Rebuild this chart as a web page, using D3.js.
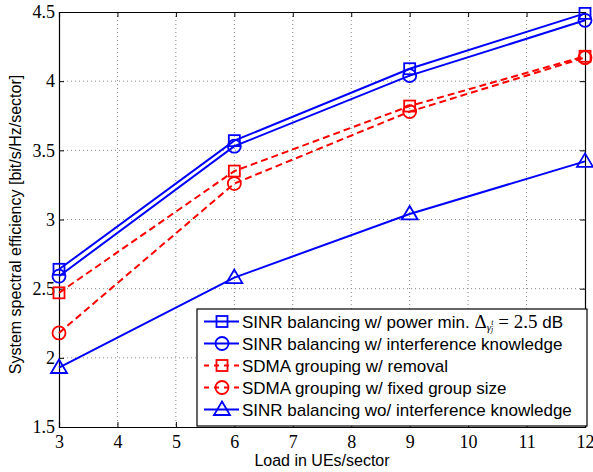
<!DOCTYPE html>
<html>
<head>
<meta charset="utf-8">
<script src="https://cdn.jsdelivr.net/npm/d3@7"></script>
<style>
  body { margin: 0; background: #fff; }
  svg { display: block; }
</style>
</head>
<body>
<div id="chart"></div>
<script>
// Loads on the x axis and efficiency values
const loads = [3, 6, 9, 12];
const xTicks = [3, 4, 5, 6, 7, 8, 9, 10, 11, 12];
const yTicks = [1.5, 2, 2.5, 3, 3.5, 4, 4.5];

const sinrPowerMin = [2.64, 3.57, 4.09, 4.49];
const sinrInterf = [2.59, 3.53, 4.04, 4.44];
const sdmaRemoval = [2.47, 3.35, 3.82, 4.18];
const sdmaFixed = [2.18, 3.26, 3.78, 4.17];
const sinrNoInterf = [1.93, 2.58, 3.04, 3.42];

const series = [
  { name: 'SINR balancing w/ power min.', values: sinrPowerMin, color: '#0000ff', dash: null, marker: 'square', math: true },
  { name: 'SINR balancing w/ interference knowledge', values: sinrInterf, color: '#0000ff', dash: null, marker: 'circle' },
  { name: 'SDMA grouping w/ removal', values: sdmaRemoval, color: '#ff0000', dash: '7,4', marker: 'square' },
  { name: 'SDMA grouping w/ fixed group size', values: sdmaFixed, color: '#ff0000', dash: '7,4', marker: 'circle' },
  { name: 'SINR balancing wo/ interference knowledge', values: sinrNoInterf, color: '#0000ff', dash: null, marker: 'triangle' }
];

const sansFam = 'Arial';
const serifFam = 'Times New Roman';

const width = 593, height = 472;
const margin = { top: 12, right: 8, bottom: 45, left: 59 };
const w = width - margin.left - margin.right;
const h = height - margin.top - margin.bottom;

const svg = d3.select('#chart').append('svg')
  .attr('width', width)
  .attr('height', height);

const g = svg.append('g')
  .attr('transform', `translate(${margin.left},${margin.top})`);

const x = d3.scaleLinear().domain([3, 12]).range([0, w]);
const y = d3.scaleLinear().domain([1.5, 4.5]).range([h, 0]);

// Grid
g.append('g').selectAll('line')
  .data(xTicks.slice(1, -1))
  .enter().append('line')
  .attr('x1', d => x(d)).attr('x2', d => x(d))
  .attr('y1', 0).attr('y2', h)
  .attr('stroke', '#888').attr('stroke-width', 1)
  .attr('stroke-dasharray', '1,3');
g.append('g').selectAll('line')
  .data(yTicks.slice(1, -1))
  .enter().append('line')
  .attr('x1', 0).attr('x2', w)
  .attr('y1', d => y(d)).attr('y2', d => y(d))
  .attr('stroke', '#888').attr('stroke-width', 1)
  .attr('stroke-dasharray', '1,3');

// Axes with inward ticks
const xAxis = g.append('g')
  .attr('transform', `translate(0,${h})`)
  .call(d3.axisBottom(x).tickValues(xTicks).tickSize(-5).tickPadding(8).tickFormat(d3.format('d')));
const yAxis = g.append('g')
  .call(d3.axisLeft(y).tickValues(yTicks).tickSize(-5).tickPadding(4).tickFormat(d => d));
g.append('g')
  .call(d3.axisTop(x).tickValues(xTicks).tickSize(-5).tickFormat(''));
g.append('g')
  .attr('transform', `translate(${w},0)`)
  .call(d3.axisRight(y).tickValues(yTicks).tickSize(-5).tickFormat(''));

g.selectAll('.domain').attr('stroke', '#000').attr('stroke-width', 1.2);
g.selectAll('.tick line').attr('stroke', '#000');
[xAxis, yAxis].forEach(a => {
  a.attr('font-family', serifFam).attr('font-size', 18);
  a.selectAll('text')
    .style('font-family', serifFam)
    .style('font-size', '18px')
    .attr('fill', '#000');
});

// Lines and markers
const line = d3.line()
  .x((d, i) => x(loads[i]))
  .y(d => y(d));

function drawMarker(sel, type, color) {
  if (type === 'square') {
    sel.append('rect').attr('x', -5.5).attr('y', -5.5).attr('width', 11).attr('height', 11)
      .attr('fill', 'none').attr('stroke', color).attr('stroke-width', 1.8);
  } else if (type === 'circle') {
    sel.append('circle').attr('r', 6.5)
      .attr('fill', 'none').attr('stroke', color).attr('stroke-width', 1.8);
  } else {
    sel.append('path').attr('d', 'M0,-8L8,5.5L-8,5.5Z')
      .attr('fill', 'none').attr('stroke', color).attr('stroke-width', 1.8);
  }
}

series.forEach(s => {
  g.append('path')
    .datum(s.values)
    .attr('d', line)
    .attr('fill', 'none')
    .attr('stroke', s.color)
    .attr('stroke-width', 2)
    .attr('stroke-dasharray', s.dash);
  s.values.forEach((v, i) => {
    const m = g.append('g').attr('transform', `translate(${x(loads[i])},${y(v)})`);
    drawMarker(m, s.marker, s.color);
  });
});

// Legend
const legX = 197 - margin.left, legY = 309 - margin.top;
const legW = 390, legH = 117;
const legend = g.append('g').attr('transform', `translate(${legX},${legY})`);
legend.append('rect')
  .attr('width', legW).attr('height', legH)
  .attr('fill', '#fff').attr('stroke', '#000').attr('stroke-width', 1.2);

series.forEach((s, i) => {
  const row = legend.append('g').attr('transform', `translate(0,${12.5 + i * 22})`);
  row.append('line')
    .attr('x1', 7).attr('x2', 42)
    .attr('stroke', s.color).attr('stroke-width', 2)
    .attr('stroke-dasharray', s.dash ? '5,5' : null);
  const m = row.append('g').attr('transform', 'translate(25,0)');
  drawMarker(m, s.marker, s.color);
  const t = row.append('text')
    .attr('x', 45).attr('y', 6)
    .style('font-family', sansFam)
    .style('font-size', '17px')
    .attr('fill', '#000')
    .text(s.name);
  if (s.math) {
    t.append('tspan').style('font-family', serifFam).style('font-size', '19px').text(' Δ');
    t.append('tspan').style('font-family', serifFam).style('font-style', 'italic')
      .style('font-size', '11px').attr('dy', 3).text('γ');
    t.append('tspan').style('font-family', serifFam).style('font-style', 'italic')
      .style('font-size', '8px').attr('dy', 1.5).text('j');
    t.append('tspan').style('font-family', serifFam).style('font-style', 'italic')
      .style('font-size', '8px').attr('dx', -2).attr('dy', -7.5).text('t');
    t.append('tspan').style('font-family', serifFam).style('font-size', '19px')
      .attr('dy', 3).text(' = 2.5');
    t.append('tspan').text(' dB');
  }
});

// Axis titles
svg.append('text')
  .attr('x', margin.left + w / 2)
  .attr('y', height - 6)
  .attr('text-anchor', 'middle')
  .style('font-family', sansFam)
  .style('font-size', '16px')
  .text('Load in UEs/sector');

svg.append('text')
  .attr('transform', `translate(21,${margin.top + h / 2 + 5}) rotate(-90)`)
  .attr('text-anchor', 'middle')
  .style('font-family', sansFam)
  .style('font-size', '16px')
  .text('System spectral efficiency [bit/s/Hz/sector]');
</script>
</body>
</html>
